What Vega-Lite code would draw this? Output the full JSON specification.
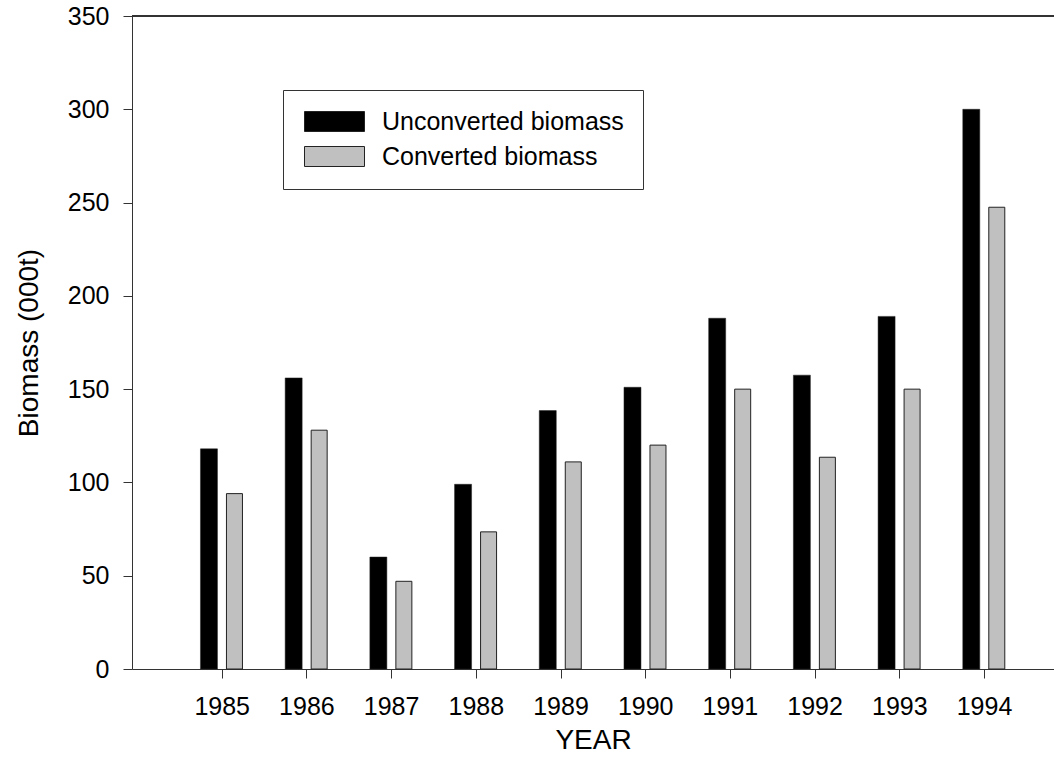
{
  "$schema": "https://vega.github.io/schema/vega-lite/v6.json",
  "width": 922,
  "height": 653,
  "autosize": {"type": "none"},
  "padding": {"left": 132, "top": 16, "right": 0, "bottom": 111},
  "background": "white",
  "config": {
    "view": {"stroke": null},
    "font": "Liberation Sans",
    "axis": {
      "grid": false,
      "domainColor": "#333333",
      "tickColor": "#333333",
      "labelColor": "black",
      "titleColor": "black",
      "labelFont": "Liberation Sans",
      "titleFont": "Liberation Sans",
      "titleFontWeight": "normal",
      "labelFontSize": 25,
      "titleFontSize": 28,
      "tickSize": 9
    }
  },
  "data": {
    "values": [
      {"year": 1985, "unconverted": 118, "converted": 94},
      {"year": 1986, "unconverted": 156, "converted": 128},
      {"year": 1987, "unconverted": 60, "converted": 47},
      {"year": 1988, "unconverted": 99, "converted": 73.5},
      {"year": 1989, "unconverted": 138.5, "converted": 111},
      {"year": 1990, "unconverted": 151, "converted": 120},
      {"year": 1991, "unconverted": 188, "converted": 150},
      {"year": 1992, "unconverted": 157.5, "converted": 113.5},
      {"year": 1993, "unconverted": 189, "converted": 150},
      {"year": 1994, "unconverted": 300, "converted": 247.5}
    ]
  },
  "layer": [
    {
      "mark": {"type": "bar", "width": 17, "xOffset": -12.75, "stroke": "#222222", "strokeWidth": 0.5},
      "encoding": {
        "x": {
          "field": "year",
          "type": "quantitative",
          "scale": {"domain": [1984, 1994.767], "nice": false, "zero": false},
          "axis": {
            "values": [1985, 1986, 1987, 1988, 1989, 1990, 1991, 1992, 1993, 1994],
            "format": "d",
            "title": "YEAR",
            "labelPadding": 16,
            "titlePadding": 7
          }
        },
        "y": {
          "field": "unconverted",
          "type": "quantitative",
          "scale": {"domain": [0, 350], "nice": false},
          "axis": {
            "values": [0, 50, 100, 150, 200, 250, 300, 350],
            "title": "Biomass (000t)",
            "labelPadding": 14,
            "titlePadding": 24
          }
        },
        "color": {
          "datum": "Unconverted biomass",
          "scale": {"domain": ["Unconverted biomass", "Converted biomass"], "range": ["#000000", "#c0c0c0"]},
          "legend": {
            "title": null,
            "orient": "none",
            "legendX": 151,
            "legendY": 74,
            "strokeColor": "#333333",
            "padding": 19,
            "symbolType": "M-1,-1H5V1H-1Z",
            "symbolSize": 400,
            "symbolStrokeColor": "#222222",
            "symbolStrokeWidth": 1,
            "labelFontSize": 25,
            "labelFont": "Liberation Sans",
            "labelColor": "black",
            "labelOffset": 55,
            "rowPadding": 9,
            "labelLimit": 400
          }
        }
      }
    },
    {
      "mark": {"type": "bar", "width": 16, "xOffset": 12.75, "stroke": "#222222", "strokeWidth": 1},
      "encoding": {
        "x": {"field": "year", "type": "quantitative"},
        "y": {"field": "converted", "type": "quantitative"},
        "color": {"datum": "Converted biomass"}
      }
    },
    {
      "mark": {"type": "rule", "color": "#333333", "strokeWidth": 1},
      "encoding": {"y": {"datum": 350}}
    }
  ]
}
